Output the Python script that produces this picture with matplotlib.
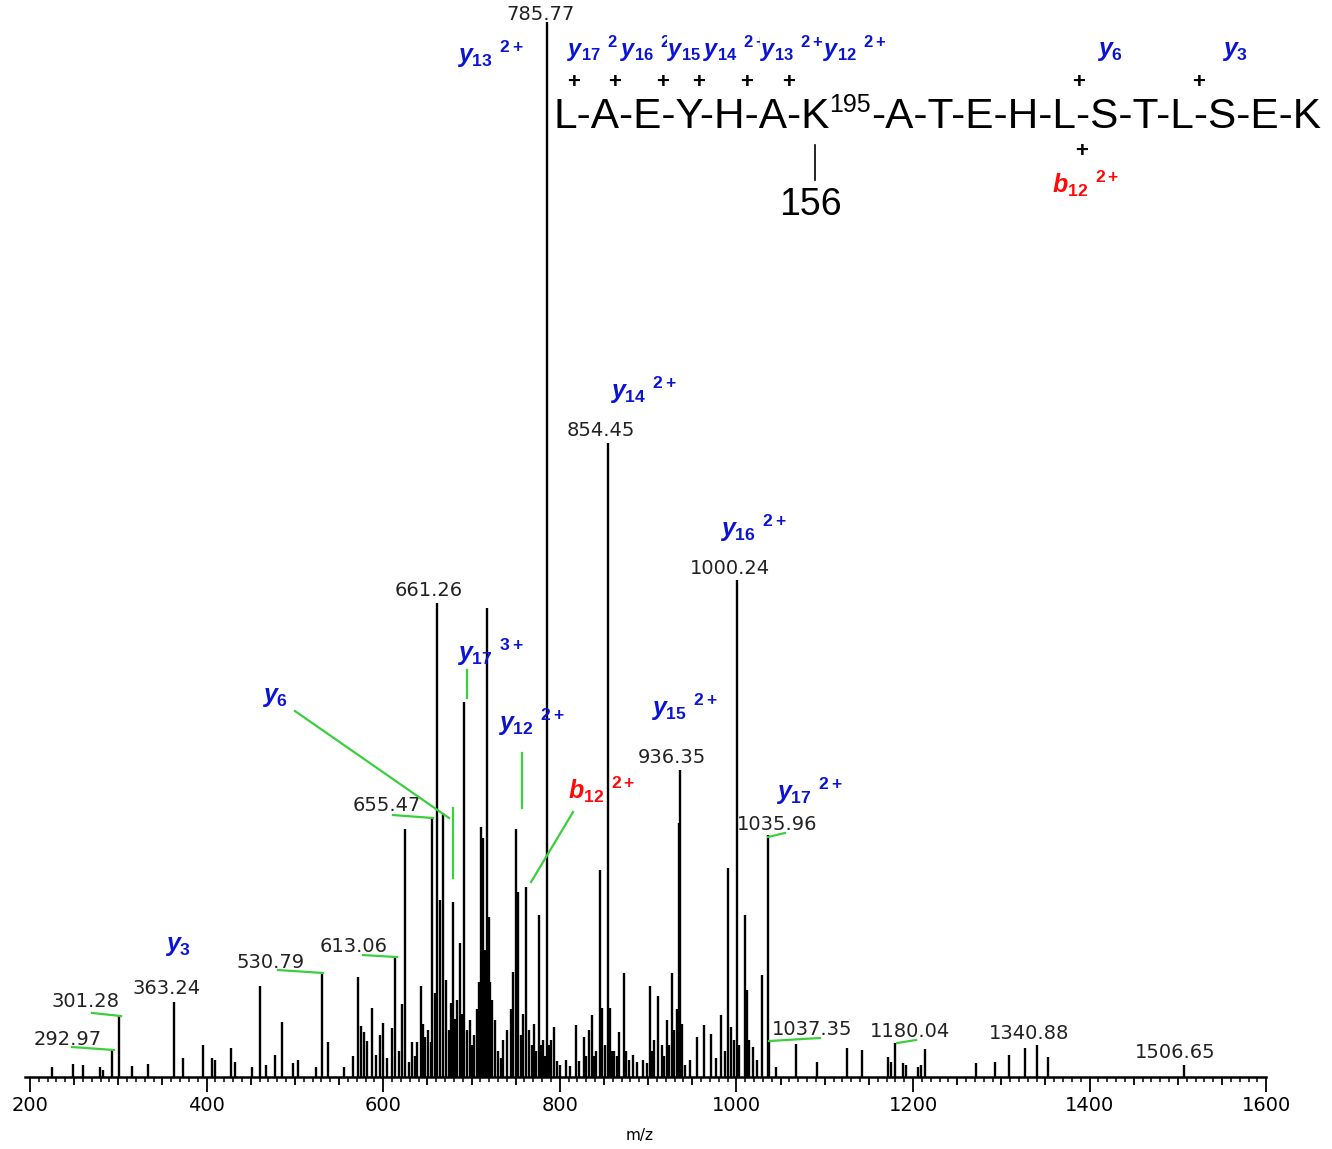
import numpy as np
import matplotlib
matplotlib.use('Agg')
from matplotlib import pyplot as plt
from matplotlib.ticker import MultipleLocator, FuncFormatter

plt.rcParams['mathtext.fontset'] = 'custom'
plt.rcParams['mathtext.it'] = 'Liberation Sans:italic:bold'
plt.rcParams['mathtext.rm'] = 'Liberation Sans:bold'
plt.rcParams['mathtext.bf'] = 'Liberation Sans:bold'

# peak list: m/z and relative intensity (%)
mz = [224.9, 248.7, 260.0, 279.3, 282.7, 292.97, 301.28, 315.5, 333.6, 363.24,
      373.3, 395.9, 406.1, 409.5, 427.6, 432.2, 451.4, 460.5, 467.3, 477.5,
      485.4, 497.8, 503.5, 523.9, 530.79, 537.5, 555.6, 565.8, 571.5, 574.9,
      578.3, 581.7, 587.3, 591.8, 596.4, 599.8, 604.3, 610.0, 613.06, 617.5,
      621.3, 624.7, 629.2, 632.6, 635.5, 638.3, 642.8, 645.0, 647.3, 650.7,
      654.1, 655.47, 658.5, 661.26, 664.3, 667.7, 671.1, 674.5, 676.5, 679.0,
      681.5, 683.6, 687.0, 689.0, 691.5, 694.9, 698.3, 700.5, 702.8, 706.2,
      708.5, 710.8, 713.0, 715.5, 717.6, 719.8, 721.5, 723.2, 726.6, 730.0,
      733.0, 735.7, 740.2, 744.7, 747.5, 750.4, 752.7, 756.1, 758.5, 761.7,
      765.1, 768.5, 771.0, 773.0, 776.4, 779.0, 781.0, 783.5, 785.77, 788.0,
      790.0, 793.4, 796.5, 800.2, 807.0, 812.0, 818.3, 822.0, 827.4, 830.0,
      833.1, 836.5, 839.0, 841.0, 845.5, 848.0, 851.0, 854.45, 856.8, 859.5,
      861.4, 865.0, 867.0, 872.7, 875.0, 878.4, 882.9, 887.4, 894.2, 899.0,
      902.2, 904.5, 906.7, 911.2, 915.7, 918.5, 921.4, 924.0, 927.1, 929.5,
      932.7, 935.0, 936.35, 938.5, 941.8, 947.5, 955.4, 963.3, 971.2, 976.9,
      982.6, 987.1, 990.5, 993.9, 997.3, 1000.24, 1002.5, 1009.7, 1011.5, 1014.3,
      1018.8, 1023.3, 1029.0, 1035.96, 1037.35, 1044.8, 1067.5, 1091.3, 1125.3, 1142.2,
      1171.7, 1175.1, 1180.04, 1188.7, 1192.1, 1205.7, 1209.0, 1213.6, 1271.3, 1292.8,
      1308.7, 1326.8, 1340.88, 1352.9, 1506.65]
intensity = [0.95, 1.2, 1.1, 0.95, 0.7, 2.6, 5.8, 1.0, 1.2, 7.1,
             1.8, 3.0, 1.8, 1.6, 2.75, 1.4, 0.95, 8.6, 1.1, 2.1,
             5.2, 1.3, 1.6, 0.95, 9.9, 3.3, 0.95, 2.0, 9.5, 4.8,
             4.3, 3.4, 6.5, 2.1, 4.0, 5.1, 1.8, 4.6, 11.4, 2.5,
             6.9, 23.5, 1.4, 3.3, 2.0, 3.3, 8.6, 5.0, 3.8, 4.5,
             3.3, 24.6, 8.0, 44.9, 16.8, 25.0, 9.2, 4.5, 7.0, 16.6,
             5.5, 7.3, 12.7, 6.0, 35.5, 4.5, 5.4, 3.0, 4.0, 6.4,
             9.0, 23.7, 22.7, 12.0, 44.5, 15.2, 9.0, 7.3, 5.4, 2.5,
             1.8, 3.5, 4.5, 6.4, 10.0, 23.5, 17.5, 4.0, 6.0, 18.0,
             4.5, 3.0, 5.0, 2.5, 15.4, 3.0, 3.5, 2.0, 100.0, 3.0,
             3.5, 4.7, 1.5, 1.1, 1.6, 1.0, 4.9, 1.5, 3.8, 2.0,
             4.5, 5.9, 2.0, 2.5, 19.6, 6.5, 3.0, 60.1, 6.5, 2.5,
             2.5, 2.0, 4.3, 9.9, 2.5, 1.6, 2.1, 1.4, 1.6, 1.3,
             8.6, 2.5, 3.5, 7.7, 3.0, 2.0, 5.4, 3.0, 9.9, 4.5,
             6.4, 24.1, 29.1, 5.0, 1.1, 1.6, 3.8, 4.9, 4.1, 1.8,
             5.9, 2.5, 19.8, 4.7, 3.5, 47.1, 3.0, 15.4, 8.2, 3.5,
             2.8, 1.6, 9.7, 22.9, 3.4, 0.95, 3.1, 1.4, 2.75, 2.6,
             1.9, 1.4, 3.2, 1.3, 1.1, 0.95, 1.1, 2.65, 1.3, 1.4,
             2.1, 2.75, 3.0, 1.9, 1.15]

# peak value labels (text, x, y)
peak_labels = ['785.77', '854.45', '1000.24', '661.26', '936.35', '1035.96', '655.47',
               '613.06', '530.79', '363.24', '301.28', '292.97', '1037.35', '1180.04',
               '1340.88', '1506.65']
peak_label_x = [777.6, 846.7, 992.7, 651.9, 927.1, 1046.0, 604.3,
                566.9, 472.9, 355.2, 263.4, 243.0, 1085.6, 1196.6,
                1331.4, 1496.7]
peak_label_y = [100.7, 61.3, 48.2, 46.1, 30.3, 23.9, 25.7,
                12.4, 10.9, 8.4, 7.2, 3.6, 4.5, 4.3,
                4.1, 2.3]

# fragment ion labels in the spectrum
ion_names = ['y', 'y', 'y', 'y', 'y', 'y', 'y', 'b', 'y', 'y']
ion_nums = ['13', '14', '16', '17', '6', '12', '15', '12', '17', '3']
ion_charges = ['2+', '2+', '2+', '3+', '', '2+', '2+', '2+', '2+', '']
ion_x = [683.6, 856.8, 981.4, 683.6, 462.7, 730.0, 903.3, 809.3, 1044.8, 352.9]
ion_y = [96.9, 65.1, 52.0, 40.3, 36.0, 33.6, 35.0, 27.2, 27.1, 12.4]

# green leader lines (x0, x1, y0, y1)
lead_x0 = [247.6, 270.2, 480.9, 577.1, 611.1, 1035.8, 1036.9, 1181.9, 500.1, 679.0, 694.9, 757.2, 815.0]
lead_x1 = [295.1, 303.1, 531.8, 615.6, 656.4, 1055.0, 1094.7, 1203.4, 674.5, 679.0, 694.9, 757.2, 767.4]
lead_y0 = [2.84, 6.07, 10.14, 11.56, 24.83, 22.75, 3.41, 3.22, 34.69, 25.5, 38.58, 30.71, 25.12]
lead_y1 = [2.56, 5.78, 9.86, 11.37, 24.55, 23.13, 3.70, 3.51, 24.55, 18.86, 35.92, 25.50, 18.48]

# sequence header
seq_left = 'L-A-E-Y-H-A-K'
seq_right = '-A-T-E-H-L-S-T-L-S-E-K'
head_nums = ['17', '16', '15', '14', '13', '12']
head_x = [808.2, 868.2, 921.4, 962.2, 1026.7, 1098.1]
plus_x = [815.0, 862.5, 916.9, 957.6, 1012.0, 1059.6, 1388.0, 1523.9]

BLUE = '#0a14d2'
RED = '#ff0a0a'
GREEN = '#3ccf3c'


def ion_text(name, num, charge):
    s = r'$\mathit{%s}_{\mathit{%s}}' % (name, num)
    if charge:
        s += r'\ {}^{%s}' % charge
    return s + '$'


fig = plt.figure(figsize=(13.32, 11.49), dpi=100)
ax = fig.add_axes([0.01854, 0.06266, 0.9321, 0.93734])

ax.vlines(mz, 0, intensity, color='black', linewidth=1.7, zorder=3)

for t, x, y in zip(peak_labels, peak_label_x, peak_label_y):
    ax.text(x, y, t, ha='center', va='center', fontsize=14, color='#222222',
            family='DejaVu Sans', clip_on=False)

for n, num, ch, x, y in zip(ion_names, ion_nums, ion_charges, ion_x, ion_y):
    c = RED if n == 'b' else BLUE
    ax.text(x, y, ion_text(n, num, ch), ha='left', va='center', fontsize=18,
            color=c, clip_on=False)

for x0, x1, y0, y1 in zip(lead_x0, lead_x1, lead_y0, lead_y1):
    ax.plot([x0, x1], [y0, y1], color=GREEN, linewidth=1.6, zorder=4, clip_on=False)

# peptide sequence
t1 = ax.text(792.3, 89.1, seq_left, ha='left', va='bottom', fontsize=30.5,
             family='Liberation Sans', clip_on=False)
t2 = ax.annotate('195', xy=(1, 0.5), xycoords=t1, ha='left', va='bottom',
                 fontsize=18, family='Liberation Sans')
ax.annotate(seq_right, xy=(1, 0), xycoords=(t2, t1), ha='left', va='bottom',
            fontsize=30.5, family='Liberation Sans')
ax.plot([1089.0, 1089.0], [88.3, 85.0], color='black', linewidth=1.2, clip_on=False)
ax.text(1083.4, 82.7, '156', ha='center', va='center', fontsize=27,
        family='Liberation Sans', clip_on=False)

for i, (num, x) in enumerate(zip(head_nums, head_x)):
    ax.text(x, 97.5, ion_text('y', num, '2+'), ha='left', va='center', fontsize=17,
            color=BLUE, clip_on=False, zorder=5 + i,
            bbox=dict(fc='white', ec='none', pad=0))
ax.text(1408.4, 97.3, ion_text('y', '6', ''), ha='left', va='center', fontsize=18,
        color=BLUE, clip_on=False)
ax.text(1550.0, 97.3, ion_text('y', '3', ''), ha='left', va='center', fontsize=18,
        color=BLUE, clip_on=False)
for x in plus_x:
    ax.text(x, 94.3, '+', ha='center', va='center', fontsize=16, fontweight='bold',
            family='Liberation Sans', clip_on=False)
ax.text(1391.4, 87.7, '+', ha='center', va='center', fontsize=16, fontweight='bold',
        family='Liberation Sans', clip_on=False)
ax.text(1357.4, 84.7, ion_text('b', '12', '2+'), ha='left', va='center', fontsize=18,
        color=RED, clip_on=False)

# axes
ax.set_xlim(194, 1600)
ax.set_ylim(0, 102.09)
for s in ['top', 'left', 'right']:
    ax.spines[s].set_visible(False)
ax.spines['bottom'].set_linewidth(1.8)
ax.set_yticks([])
ax.xaxis.set_major_locator(MultipleLocator(50))
ax.xaxis.set_minor_locator(MultipleLocator(10))
ax.xaxis.set_major_formatter(FuncFormatter(lambda v, p: '%d' % v if v % 200 == 0 else ''))
ax.tick_params(axis='x', which='major', length=10.8, width=1.3, labelsize=14, pad=3)
ax.tick_params(axis='x', which='minor', length=3.6, width=1.1)
for tick, loc in zip(ax.xaxis.get_major_ticks(), ax.xaxis.get_majorticklocs()):
    if loc % 200 != 0:
        tick.tick1line.set_markersize(5.8)
ax.set_xlabel('m/z', fontsize=11)
ax.xaxis.set_label_coords(0.4956, -0.047)
ax.patch.set_visible(False)

fig.savefig('out.png', dpi=100)
